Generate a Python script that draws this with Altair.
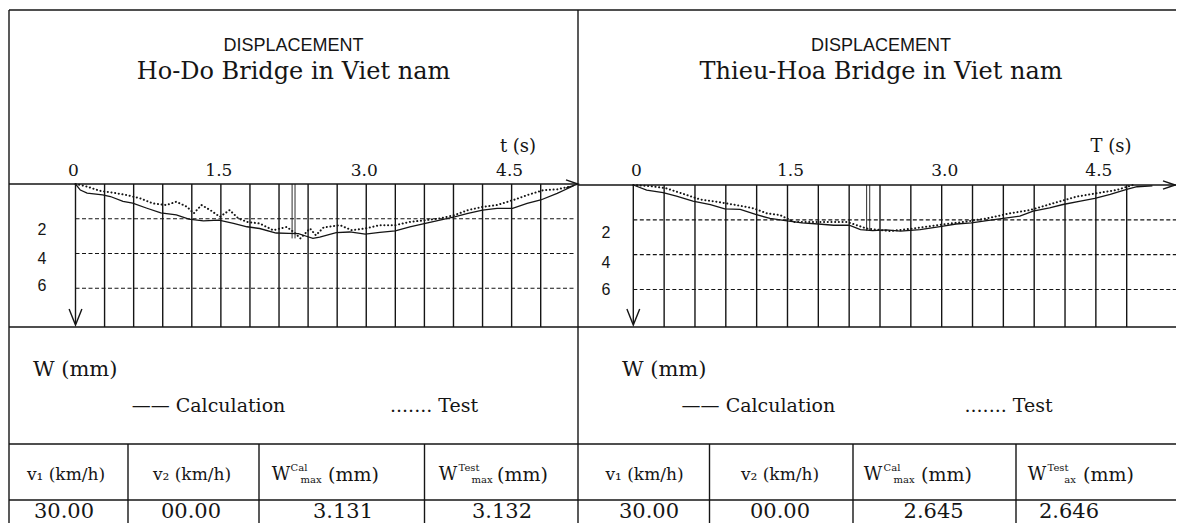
import altair as alt
import pandas as pd

# ---------------- data ----------------
LEFT_CAL_T = [0.00, 0.05, 0.12, 0.28, 0.36, 0.49, 0.59, 0.73, 0.88, 1.04, 1.17, 1.32, 1.48, 1.63, 1.77,
              1.90, 2.07, 2.20, 2.30, 2.39, 2.45, 2.52, 2.69, 2.83, 2.99, 3.14, 3.30, 3.45, 3.61, 3.76,
              3.91, 4.05, 4.20, 4.35, 4.51, 4.66, 4.80, 4.97, 5.14]
LEFT_CAL_W = [0.00, 0.35, 0.52, 0.62, 0.72, 1.00, 1.10, 1.38, 1.66, 1.78, 2.02, 2.12, 2.08, 2.26, 2.46,
              2.56, 2.82, 2.84, 2.86, 3.02, 3.13, 3.05, 2.80, 2.76, 2.88, 2.78, 2.70, 2.47, 2.27, 2.08,
              1.89, 1.69, 1.50, 1.40, 1.40, 1.12, 0.92, 0.54, 0.10]
LEFT_TEST_T = [0.00, 0.12, 0.25, 0.39, 0.53, 0.67, 0.80, 0.94, 1.04, 1.15, 1.22, 1.30, 1.39, 1.49, 1.59,
               1.68, 1.77, 1.90, 2.04, 2.18, 2.26, 2.32, 2.42, 2.48, 2.56, 2.73, 2.85, 2.99, 3.14, 3.30,
               3.45, 3.61, 3.76, 3.91, 4.05, 4.21, 4.35, 4.52, 4.66, 4.83, 4.97, 5.10]
LEFT_TEST_W = [0.00, 0.15, 0.39, 0.50, 0.64, 0.83, 1.12, 1.21, 1.02, 1.31, 1.69, 1.21, 1.50, 1.89, 1.50,
               1.98, 2.18, 2.27, 2.66, 2.47, 2.80, 3.13, 2.56, 2.95, 2.50, 2.37, 2.66, 2.56, 2.37, 2.37,
               2.18, 2.08, 1.98, 1.79, 1.50, 1.31, 1.21, 0.92, 0.64, 0.35, 0.31, 0.15]

RIGHT_CAL_T = [0.00, 0.13, 0.29, 0.42, 0.58, 0.75, 0.89, 1.04, 1.19, 1.33, 1.48, 1.64, 1.80, 1.95, 2.10,
               2.21, 2.33, 2.46, 2.60, 2.79, 3.00, 3.14, 3.29, 3.44, 3.60, 3.76, 3.89, 4.05, 4.18, 4.35,
               4.49, 4.64, 4.80, 4.90, 5.05]
RIGHT_CAL_W = [0.00, 0.30, 0.44, 0.64, 0.92, 1.12, 1.37, 1.40, 1.69, 1.92, 2.04, 2.18, 2.24, 2.31, 2.31,
               2.56, 2.62, 2.58, 2.645, 2.56, 2.37, 2.24, 2.18, 2.04, 1.92, 1.79, 1.50, 1.31, 1.12, 0.92,
               0.77, 0.54, 0.25, 0.10, 0.05]
RIGHT_TEST_T = [0.00, 0.16, 0.32, 0.45, 0.65, 0.81, 1.00, 1.17, 1.30, 1.43, 1.56, 1.82, 2.08, 2.27, 2.50,
                2.72, 2.95, 3.21, 3.44, 3.66, 3.86, 4.08, 4.31, 4.50, 4.70, 4.86]
RIGHT_TEST_W = [0.00, 0.06, 0.19, 0.44, 0.83, 0.96, 1.15, 1.34, 1.63, 1.73, 2.12, 2.12, 2.12, 2.50, 2.646,
                2.50, 2.31, 2.12, 1.92, 1.63, 1.44, 1.06, 0.67, 0.48, 0.29, 0.00]

LEFT_MARK_T = [2.235, 2.265]
LEFT_MARK_W = 3.13
RIGHT_MARK_T = [2.27, 2.30]
RIGHT_MARK_W = 2.62

GRID_T = [0.3, 0.6, 0.9, 1.2, 1.5, 1.8, 2.1, 2.4, 2.7, 3.0, 3.3, 3.6, 3.9, 4.2, 4.5, 4.8]
TICK_T = [0.0, 1.5, 3.0, 4.5]
TICK_LABELS = ["0", "1.5", "3.0", "4.5"]
W_LEVELS = [2, 4, 6]
W_LABELS = ["2", "4", "6"]

HEAD = "DISPLACEMENT"
BRIDGES = ["Ho-Do Bridge in Viet nam", "Thieu-Hoa Bridge in Viet nam"]
TIME_TITLES = ["t (s)", "T (s)"]
W_TITLE = "W (mm)"
LEG_CAL = "—— Calculation"
LEG_TEST = "....... Test"
V1_HEAD = "v₁ (km/h)"
V2_HEAD = "v₂ (km/h)"
V1 = ["30.00", "30.00"]
V2 = ["00.00", "00.00"]
W_CAL_MAX = ["3.131", "2.645"]
W_TEST_MAX = ["3.132", "2.646"]
TEST_SUB = ["max", "ax"]

# ---------------- styling / layout ----------------
INK = "#151515"
SERIF = "DejaVu Serif"
SANS = "Liberation Sans"
OFF = 8  # page margin


def px(v):
    return v - OFF


ONE = alt.Data(values=[{"k": 0}])


def hline(y, x1, x2, w=1.4, dash=None):
    kw = dict(color=INK, strokeWidth=w)
    if dash:
        kw["strokeDash"] = dash
    return alt.Chart(ONE).mark_rule(**kw).encode(
        x=alt.value(px(x1)), x2=alt.value(px(x2)), y=alt.value(px(y)))


def vline(x, y1, y2, w=1.4):
    return alt.Chart(ONE).mark_rule(color=INK, strokeWidth=w).encode(
        x=alt.value(px(x)), y=alt.value(px(y1)), y2=alt.value(px(y2)))


def txt(text, x, y, size, font=SERIF, align="center", baseline="middle"):
    return alt.Chart(ONE).mark_text(text=text, font=font, fontSize=size, align=align,
                                    baseline=baseline, color=INK).encode(
        x=alt.value(px(x)), y=alt.value(px(y)))


def arrow(x, y, shape, size):
    return alt.Chart(ONE).mark_point(shape=shape, size=size, filled=False, color=INK,
                                     strokeWidth=1.4, opacity=1).encode(
        x=alt.value(px(x)), y=alt.value(px(y)))


def panel(cal_t, cal_w, test_t, test_w, mark_t, mark_w, x0, x48, y0, y6, xend,
          bottom, label_x, label_dy, tick_y, tick_dx):
    xs = alt.Scale(domain=[0, 4.8], range=[px(x0), px(x48)], nice=False, zero=False)
    ys = alt.Scale(domain=[0, 6], range=[px(y0), px(y6)], nice=False, zero=False)

    def X(f):
        return alt.X(f + ":Q", scale=xs, axis=None)

    def Y(f):
        return alt.Y(f + ":Q", scale=ys, axis=None)

    grid = alt.Chart(pd.DataFrame({"t": GRID_T})).mark_rule(color=INK, strokeWidth=1.4).encode(
        x=X("t"), y=alt.value(px(y0)), y2=alt.value(px(bottom)))
    dashed = alt.Chart(pd.DataFrame({"w": W_LEVELS})).mark_rule(
        color=INK, strokeWidth=1.1, strokeDash=[4, 2.5]).encode(
        y=Y("w"), x=alt.value(px(x0)), x2=alt.value(px(xend)))
    marks = alt.Chart(pd.DataFrame({"t": mark_t, "w": [mark_w] * len(mark_t)})).mark_rule(
        color=INK, strokeWidth=0.9).encode(x=X("t"), y=Y("w"), y2=alt.value(px(y0)))
    ticks = alt.Chart(pd.DataFrame({"t": TICK_T, "label": TICK_LABELS})).mark_text(
        font=SERIF, fontSize=17, color=INK, baseline="middle", dx=tick_dx).encode(
        x=X("t"), y=alt.value(px(tick_y)), text="label:N")
    wlabs = []
    for lv, lt, dy in zip(W_LEVELS, W_LABELS, label_dy):
        wlabs.append(alt.Chart(pd.DataFrame({"w": [lv], "label": [lt]})).mark_text(
            font=SANS, fontSize=16, color=INK, baseline="middle", dy=dy).encode(
            y=Y("w"), x=alt.value(px(label_x)), text="label:N"))
    cal = alt.Chart(pd.DataFrame({"t": cal_t, "w": cal_w})).mark_line(
        color=INK, strokeWidth=1.3).encode(x=X("t"), y=Y("w"))
    test = alt.Chart(pd.DataFrame({"t": test_t, "w": test_w})).mark_line(
        color=INK, strokeWidth=2.0, strokeDash=[0.1, 3.6], strokeCap="round").encode(
        x=X("t"), y=Y("w"))
    return alt.layer(grid, dashed, marks, ticks, *wlabs, cal, test)


TABLE_TOP = 444
ROW_LINE = 500
HY = 475
VY = 518  # alphabetic baseline of the value row

layers = []
# outer frame, divider, horizontal bands
layers += [hline(10, 9, 1184), vline(9, 10, 540), vline(578, 10, 540)]
layers += [hline(184, 9, 578), hline(185, 578, 1184)]
layers += [hline(327, 9, 1184), hline(TABLE_TOP, 9, 1184), hline(ROW_LINE, 9, 1184)]
for cx in [128, 259, 424.5, 709.5, 853, 1016]:
    layers.append(vline(cx, TABLE_TOP, 540))
# vertical axes with arrows
layers += [vline(75.5, 184, 324), vline(633.3, 185, 324)]
V_SHAPE = "M-0.8,-1L0,1L0.8,-1"
R_SHAPE = "M-1,-0.7L1,0L-1,0.7"
layers += [arrow(75.5, 317, V_SHAPE, 256), arrow(633.3, 317, V_SHAPE, 256)]
layers += [arrow(572, 184, R_SHAPE, 144), arrow(1169, 185, R_SHAPE, 144)]

# titles
for cx, name, tt, tx in [(293.5, BRIDGES[0], TIME_TITLES[0], 518), (881, BRIDGES[1], TIME_TITLES[1], 1111)]:
    layers.append(txt(HEAD, cx, 46, 18, font=SANS))
    layers.append(txt(name, cx, 72, 24))
    layers.append(txt(tt, tx, 147, 18))

# legend area
for wx, cx, tx in [(33, 131.7, 390), (622, 681.6, 964.5)]:
    layers.append(txt(W_TITLE, wx, 370, 21, align="left"))
    layers.append(txt(LEG_CAL, cx, 406, 19, align="left"))
    layers.append(txt(LEG_TEST, tx, 406, 19, align="left"))

# table header: v1, v2, W-cal pieces (W, sup, sub, (mm) left edge), W-test pieces
hdr = [
    (66, 192, 281, 299, 311, 328, 448, 469, 482, 497),
    (644.5, 780, 873, 892, 904, 921, 1037, 1058, 1070, 1083),
]
for i, (a, b, w1, c1, m1, p1, w2, c2, m2, p2) in enumerate(hdr):
    layers.append(txt(V1_HEAD, a, HY, 17))
    layers.append(txt(V2_HEAD, b, HY, 17))
    layers.append(txt("W", w1, HY, 18))
    layers.append(txt("Cal", c1, HY - 7, 10))
    layers.append(txt("max", m1, HY + 5, 10))
    layers.append(txt("(mm)", p1, HY, 19, align="left"))
    layers.append(txt("W", w2, HY, 18))
    layers.append(txt("Test", c2, HY - 7, 10))
    layers.append(txt(TEST_SUB[i], m2, HY + 5, 10))
    layers.append(txt("(mm)", p2, HY, 19, align="left"))

# table values
COLS = [(64, 191, 343, 502), (649, 780, 933.6, 1069)]
for i, (a, b, c, d) in enumerate(COLS):
    for cx, val in zip((a, b, c, d), (V1[i], V2[i], W_CAL_MAX[i], W_TEST_MAX[i])):
        layers.append(txt(val, cx, VY, 21, baseline="alphabetic"))

left = panel(LEFT_CAL_T, LEFT_CAL_W, LEFT_TEST_T, LEFT_TEST_W, LEFT_MARK_T, LEFT_MARK_W,
             x0=75.5, x48=540.7, y0=184, y6=288.3, xend=576, bottom=327, label_x=42,
             label_dy=[11, 5, -2], tick_y=171, tick_dx=-2)
right = panel(RIGHT_CAL_T, RIGHT_CAL_W, RIGHT_TEST_T, RIGHT_TEST_W, RIGHT_MARK_T, RIGHT_MARK_W,
              x0=633.3, x48=1126.7, y0=185, y6=289.5, xend=1184, bottom=327, label_x=606,
              label_dy=[13, 8, 0], tick_y=171, tick_dx=3)

chart = alt.layer(*layers, left, right).resolve_scale(
    x="independent", y="independent"
).properties(
    width=1168, height=515, padding=0,
    autosize=alt.AutoSizeParams(type="none"),
    background="white",
).configure_view(stroke=None)

chart.save("out.html", embed_options={"renderer": "svg", "actions": False})
